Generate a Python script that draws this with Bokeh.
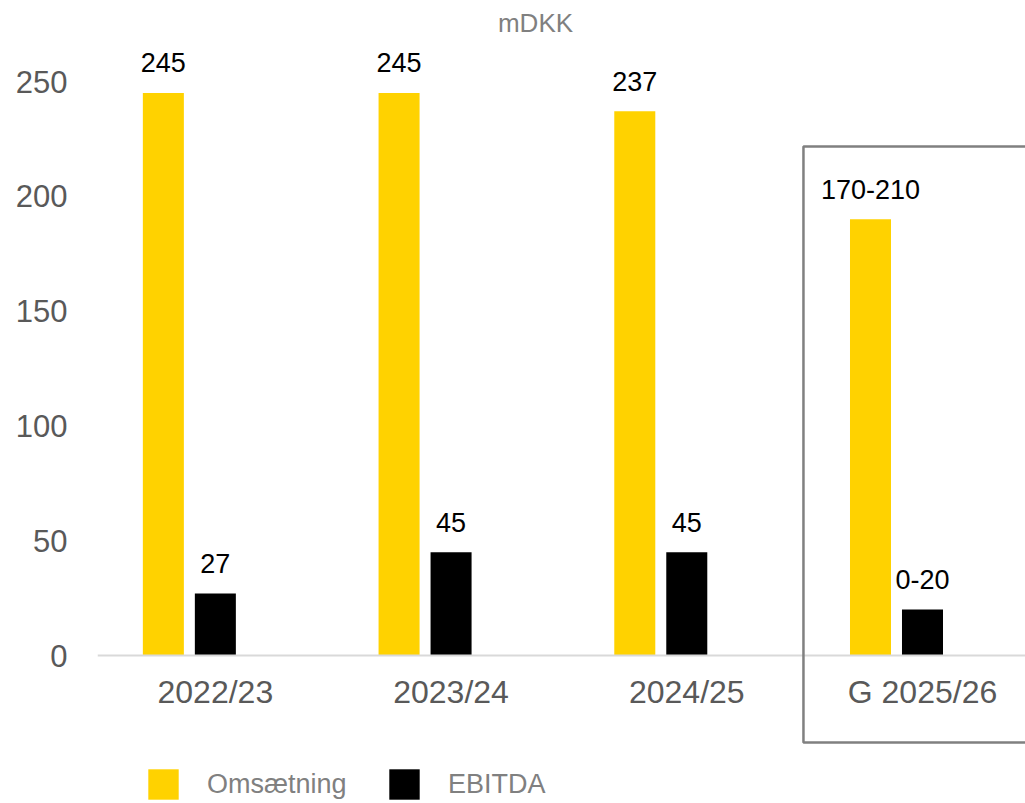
from bokeh.plotting import figure
from bokeh.models import (Range1d, FixedTicker, Legend, LegendItem, Label,
                          BoxAnnotation, ColumnDataSource)
from bokeh.core.properties import value
from bokeh.embed import file_html
from bokeh.resources import INLINE

categories = ["2022/23", "2023/24", "2024/25", "G 2025/26"]
omsaetning = [245, 245, 237, 190]
omsaetning_labels = ["245", "245", "237", "170-210"]
ebitda = [27, 45, 45, 20]
ebitda_labels = ["27", "45", "45", "0-20"]
y_ticks = [0, 50, 100, 150, 200, 250]

FONT = "Liberation Sans"
YELLOW = "#FFD200"

idx = list(range(len(categories)))
x_oms = [i + 0.5 - 0.2206 for i in idx]
x_ebi = [i + 0.5 for i in idx]
centers = [i + 0.5 for i in idx]

src_o = ColumnDataSource(dict(x=x_oms, y=omsaetning, t=omsaetning_labels))
src_e = ColumnDataSource(dict(x=x_ebi, y=ebitda, t=ebitda_labels))

p = figure(width=1025, height=803, output_backend="svg", toolbar_location=None,
           x_range=Range1d(0, 3.937), y_range=Range1d(-64.46, 285.28),
           min_border_left=97, min_border_right=0, min_border_top=0,
           min_border_bottom=0)
p.outline_line_color = None
p.xgrid.grid_line_color = None
p.ygrid.grid_line_color = None

# guidance box around the forecast year
box = BoxAnnotation(left=2.995, right=4.3, top=221.7, bottom=-37.9,
                    fill_color=None, fill_alpha=0, line_color="#808080",
                    line_alpha=1, line_width=2.5)
p.add_layout(box)

r1 = p.vbar(x="x", top="y", width=0.174, source=src_o, color=YELLOW, line_color=None)
r2 = p.vbar(x="x", top="y", width=0.174, source=src_e, color="black", line_color=None)

for src in (src_o, src_e):
    p.text(x="x", y="y", text="t", source=src, y_offset=-30, text_align="center",
           text_baseline="alphabetic", text_font=value(FONT), text_font_size="27px",
           text_color="black")

# axes
p.xaxis.fixed_location = 0
p.xaxis.ticker = FixedTicker(ticks=centers)
p.xaxis.major_label_overrides = {c: lab for c, lab in zip(centers, categories)}
p.xaxis.axis_line_color = "#D9D9D9"
p.xaxis.axis_line_width = 2
p.xaxis.major_tick_line_color = None
p.xaxis.minor_tick_line_color = None
p.xaxis.major_label_text_font = FONT
p.xaxis.major_label_text_font_size = "32px"
p.xaxis.major_label_text_color = "#595959"
p.xaxis.major_label_standoff = 12

p.yaxis.ticker = FixedTicker(ticks=y_ticks)
p.yaxis.axis_line_color = None
p.yaxis.major_tick_line_color = None
p.yaxis.minor_tick_line_color = None
p.yaxis.major_label_text_font = FONT
p.yaxis.major_label_text_font_size = "31px"
p.yaxis.major_label_text_color = "#595959"
p.yaxis.major_label_standoff = 24

# unit title
p.add_layout(Label(x=438, y=781, x_units="screen", y_units="screen", text="mDKK",
                   text_align="center", text_baseline="middle", text_font=FONT,
                   text_font_size="26px", text_color="#808080"))

# legends
for lab, r, lx in [("Omsætning", r1, 47), ("EBITDA", r2, 288)]:
    lg = Legend(items=[LegendItem(label=lab, renderers=[r])], location=(lx, 0),
                orientation="horizontal", glyph_width=38, glyph_height=38,
                label_standoff=25, padding=0, margin=0, border_line_color=None,
                background_fill_alpha=0, label_text_font=FONT,
                label_text_font_size="27px", label_text_color="#808080")
    p.add_layout(lg)

open("out.html", "w").write(file_html(p, INLINE))
